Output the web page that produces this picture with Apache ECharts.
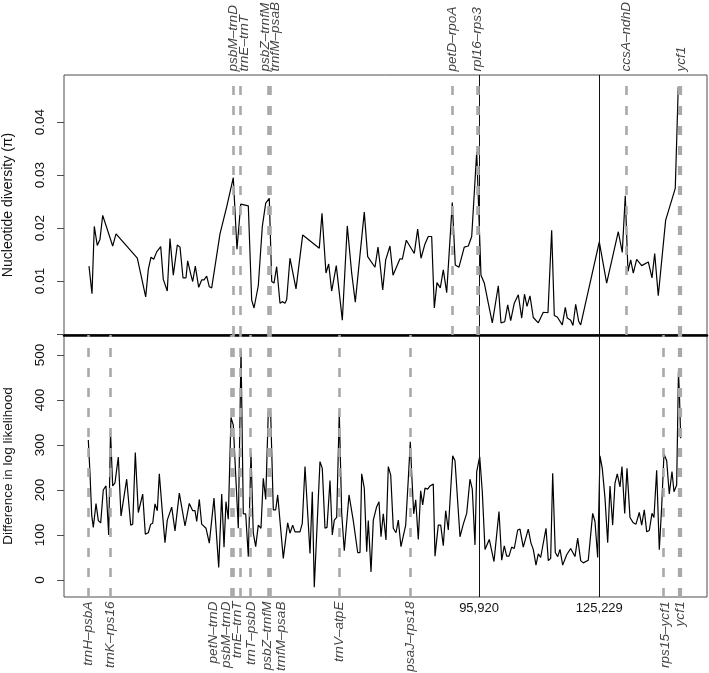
<!DOCTYPE html>
<html><head><meta charset="utf-8">
<script src="https://cdn.jsdelivr.net/npm/echarts@6/dist/echarts.min.js"></script>
<style>html,body{margin:0;padding:0;background:#fff}#c{width:709px;height:673px}</style>
</head><body><div id="c"></div>
<script>
// ---------- DATA (positions in kb) ----------
const piX = [0.91,1.64,2.20,2.93,3.59,4.25,6.68,7.49,12.68,14.72,15.36,16.01,16.67,17.40,18.38,19.01,19.98,20.64,21.45,22.42,23.08,23.81,24.54,24.95,25.69,26.17,26.81,27.63,28.36,28.93,29.58,30.22,30.80,32.82,34.45,36.06,36.96,37.87,39.72,40.54,41.11,42.15,43.13,43.96,44.83,45.42,45.98,46.63,47.44,48.00,48.66,49.07,49.87,51.34,52.97,57.01,57.67,58.64,59.30,60.03,61.15,62.62,63.83,64.90,65.78,67.97,68.80,70.58,71.31,71.80,72.46,73.19,74.23,74.97,76.67,77.23,78.21,80.15,80.98,81.79,82.76,83.56,84.39,85.03,85.68,86.49,87.22,88.05,89.41,90.14,91.04,92.33,93.31,94.14,95.36,96.40,97.21,98.18,99.16,100.62,101.27,102.18,102.91,103.64,104.51,105.49,106.32,107.00,107.61,108.34,109.14,110.36,111.58,112.72,113.62,114.26,114.99,116.21,116.94,117.42,118.25,118.81,119.47,120.20,120.69,125.22,127.02,129.85,130.82,131.55,132.21,132.87,133.50,134.33,135.55,137.16,138.06,138.72,139.59,141.39,143.73,144.46];
const piY = [0.0128,0.0076,0.0203,0.0167,0.0179,0.0224,0.0166,0.0189,0.0143,0.0070,0.0122,0.0145,0.0141,0.0155,0.0165,0.0103,0.0081,0.0180,0.0111,0.0168,0.0164,0.0106,0.0106,0.0138,0.0113,0.0099,0.0128,0.0088,0.0102,0.0102,0.0109,0.0089,0.0087,0.0189,0.0240,0.0295,0.0160,0.0245,0.0242,0.0064,0.0049,0.0091,0.0203,0.0247,0.0256,0.0099,0.0096,0.0127,0.0058,0.0061,0.0058,0.0065,0.0143,0.0085,0.0187,0.0162,0.0228,0.0115,0.0132,0.0081,0.0129,0.0026,0.0204,0.0115,0.0060,0.0230,0.0146,0.0126,0.0164,0.0133,0.0083,0.0140,0.0166,0.0111,0.0142,0.0141,0.0177,0.0152,0.0198,0.0143,0.0170,0.0184,0.0184,0.0049,0.0097,0.0087,0.0121,0.0078,0.0248,0.0130,0.0126,0.0164,0.0166,0.0184,0.0344,0.0111,0.0096,0.0058,0.0021,0.0091,0.0021,0.0023,0.0055,0.0025,0.0058,0.0074,0.0030,0.0075,0.0052,0.0072,0.0031,0.0021,0.0041,0.0040,0.0196,0.0035,0.0032,0.0017,0.0050,0.0030,0.0026,0.0016,0.0056,0.0024,0.0017,0.0174,0.0096,0.0193,0.0154,0.0261,0.0118,0.0140,0.0115,0.0141,0.0129,0.0136,0.0106,0.0152,0.0072,0.0215,0.0275,0.0467];

const llX = [0.74,1.15,1.57,1.96,2.62,3.18,3.76,4.39,5.05,5.71,6.15,6.68,7.24,8.05,8.71,10.09,10.48,11.07,11.56,12.19,12.92,13.99,14.63,15.36,15.94,16.43,16.99,17.55,18.04,18.77,19.42,19.98,21.06,21.86,22.91,24.30,25.34,26.17,26.73,27.15,27.78,28.36,29.41,30.22,31.36,32.51,33.24,33.80,34.28,34.84,35.50,36.06,37.28,37.94,38.50,39.08,39.72,40.37,40.93,41.52,42.15,42.81,43.37,43.96,44.59,45.17,45.81,46.39,46.88,48.24,49.31,49.87,50.53,51.09,52.31,52.87,53.53,54.75,55.31,55.79,57.18,57.74,58.40,58.89,59.62,60.18,60.67,61.25,61.88,62.47,63.10,64.25,65.29,66.37,66.93,67.34,67.97,68.56,68.95,69.61,70.17,70.99,71.56,72.04,72.60,73.26,73.82,74.41,75.04,75.70,76.26,76.91,78.06,78.69,79.18,79.52,80.01,80.50,81.13,81.71,82.20,82.76,83.42,83.98,84.78,85.20,86.00,86.59,87.22,87.80,88.44,88.85,89.51,90.07,91.29,92.09,92.92,93.72,94.28,94.94,95.36,96.09,96.72,97.38,98.42,99.57,100.79,101.45,102.08,102.66,103.22,103.88,104.51,105.34,105.90,106.70,107.92,108.58,109.14,109.80,110.36,110.94,112.24,112.80,113.38,113.87,114.50,115.09,115.65,116.30,117.28,118.25,119.30,119.96,120.69,121.32,122.54,123.61,124.17,124.83,125.39,125.95,126.61,127.27,127.83,128.48,129.04,129.60,130.26,130.75,131.41,131.97,132.70,133.50,134.16,134.96,135.55,136.18,136.77,137.40,138.06,138.54,139.20,139.84,140.42,140.98,141.64,142.27,142.93,143.42,144.07,144.51,144.76,145.05];
const llY = [311,237,144,117,170,132,127,200,209,100,330,209,216,273,142,224,226,122,124,283,150,191,102,105,124,126,169,154,236,152,83,133,162,109,193,120,170,154,154,130,179,124,115,82,182,28,191,73,174,135,361,344,115,511,147,147,52,282,104,74,122,115,226,179,374,370,156,156,189,48,127,104,122,107,107,126,252,59,196,-16,263,248,115,117,221,100,133,139,372,148,65,189,132,61,61,236,204,63,132,18,133,163,174,96,147,89,252,233,115,105,133,74,122,224,307,237,147,178,90,198,167,204,202,209,213,53,122,122,76,154,111,107,276,265,96,124,148,224,202,78,241,274,196,68,90,41,152,44,76,53,53,73,70,111,113,73,113,82,68,33,58,50,115,43,48,237,61,52,68,33,56,70,52,93,43,38,44,148,130,50,276,248,182,83,209,122,215,236,207,252,148,248,139,127,124,150,122,156,107,110,148,139,244,67,163,280,265,191,241,196,211,463,407,315];

// region boundaries (kb)
const boundaries = [95.920, 125.229];
// highlighted regions
const topNames = ['psbM–trnD','trnE–trnT','psbZ–trnfM','trnfM–psaB','petD–rpoA','rpl16–rps3','ccsA–ndhD','ycf1'];
const topPos   = [36.06, 37.87, 44.59, 45.00, 89.34, 95.50, 131.89, 144.88];
const botNames = ['trnH–psbA','trnK–rps16','petN–trnD','psbM–trnD','trnE–trnT','trnT–psbD','psbZ–trnfM','trnfM–psaB','trnV–atpE','psaJ–rps18','rps15–ycf1','ycf1'];
const botPos   = [0.74, 6.10, 35.67, 36.06, 37.87, 40.30, 44.59, 45.00, 61.88, 79.18, 140.81, 144.88];
// tick values
const piTicks = [0, 0.01, 0.02, 0.03, 0.04];
const piTickLabels = [0.01, 0.02, 0.03, 0.04];
const llTicks = [0, 100, 200, 300, 400, 500];

// ---------- STYLE / LAYOUT ----------
const X_MIN = -5.18, X_MAX = 151.46;
const PI_MIN = -0.0002, PI_MAX = 0.0489;
const LL_MIN = -37.8, LL_MAX = 544.4;
const topNudge = [0, 4, -3.5, 5, 0, 0, 0, 1];
const botNudge = [0, 0, -18.5, -7, -3, 1, -1, 11, 0, 0, 1.5, 0];
const topDashW = [2.6, 2.6, 2.6, 2.6, 2.6, 3.6, 2.6, 4.2];
const botDashW = [2.6, 2.6, 2.6, 2.6, 2.6, 2.6, 2.6, 2.6, 2.6, 2.6, 2.6, 4.2];
const FONT = '"Liberation Sans", Arial, Helvetica, sans-serif';
const TXT = '#111';
const AX = '#4d4d4d';
const dash = w => ({type:[9,11], width:w, color:'#a9a9a9'});
const solid = {type:'solid', width:1, color:'#111'};

const zip = (a,b) => a.slice(0, Math.min(a.length,b.length)).map((v,i)=>[v,b[i]]);
const markLines = (pos, widths) => ({
  silent:true, symbol:['none','none'], label:{show:false}, animation:false,
  data: boundaries.map(v=>({xAxis:v, lineStyle:solid})).concat(pos.map((v,i)=>({xAxis:v, lineStyle:dash(widths[i])})))
});

const chart = echarts.init(document.getElementById('c'));
chart.setOption({
  animation:false,
  backgroundColor:'#fff',
  grid:[
    {left:64, top:75, width:643, height:260, show:true, borderColor:AX, borderWidth:1, containLabel:false, outerBoundsMode:'none'},
    {left:64, top:335, width:643, height:262, show:true, borderColor:AX, borderWidth:1, containLabel:false, outerBoundsMode:'none'}
  ],
  xAxis:[
    {gridIndex:0, type:'value', min:X_MIN, max:X_MAX,
     axisLine:{show:true, onZero:false, lineStyle:{color:'#000', width:2.5}},
     axisTick:{show:false}, axisLabel:{show:false}, splitLine:{show:false}},
    {gridIndex:1, type:'value', min:X_MIN, max:X_MAX,
     axisLine:{show:false, onZero:false}, axisTick:{show:false}, splitLine:{show:false},
     axisLabel:{show:true, customValues:boundaries, margin:5, fontSize:13, color:TXT, fontFamily:FONT,
       formatter:v=>Math.round(v*1000).toLocaleString('en-US')}}
  ],
  yAxis:[
    {gridIndex:0, type:'value', min:PI_MIN, max:PI_MAX,
     axisLine:{show:false, onZero:false}, splitLine:{show:false},
     axisTick:{show:true, length:7, customValues:piTicks, lineStyle:{color:AX}},
     axisLabel:{show:true, customValues:piTickLabels, rotate:90, margin:17, fontSize:13.5, color:TXT, fontFamily:FONT,
       formatter:v=>v.toFixed(2)},
     name:'Nucleotide diversity (π)', nameLocation:'middle', nameGap:49, nameRotate:90,
     nameTextStyle:{fontSize:14, color:TXT, fontFamily:FONT}},
    {gridIndex:1, type:'value', min:LL_MIN, max:LL_MAX,
     axisLine:{show:false, onZero:false}, splitLine:{show:false},
     axisTick:{show:true, length:7, customValues:llTicks, lineStyle:{color:AX}},
     axisLabel:{show:true, customValues:llTicks, rotate:90, margin:17, fontSize:13.5, color:TXT, fontFamily:FONT},
     name:'Difference in log likelihood', nameLocation:'middle', nameGap:49, nameRotate:90,
     nameTextStyle:{fontSize:13.5, color:TXT, fontFamily:FONT}}
  ],
  series:[
    {type:'line', xAxisIndex:0, yAxisIndex:0, data:zip(piX,piY), symbol:'none',
     lineStyle:{color:'#000', width:1.2}, markLine:markLines(topPos, topDashW), z:2},
    {type:'line', xAxisIndex:1, yAxisIndex:1, data:zip(llX,llY), symbol:'none',
     lineStyle:{color:'#000', width:1.2}, markLine:markLines(botPos, botDashW), z:2},
    {type:'scatter', xAxisIndex:0, yAxisIndex:0, symbolSize:1, silent:true, clip:false,
     itemStyle:{color:'rgba(0,0,0,0)'},
     data: topNames.map((n,i)=>({name:n, value:[topPos[i], PI_MAX], label:{offset:[0, topNudge[i]]}})),
     label:{show:true, formatter:'{b}', position:'top', distance:3, rotate:90, align:'left', verticalAlign:'middle',
       fontStyle:'italic', fontSize:13.6, fontFamily:FONT, color:TXT}},
    {type:'scatter', xAxisIndex:1, yAxisIndex:1, symbolSize:1, silent:true, clip:false,
     itemStyle:{color:'rgba(0,0,0,0)'},
     data: botNames.map((n,i)=>({name:n, value:[botPos[i], LL_MIN], label:{offset:[0, botNudge[i]]}})),
     label:{show:true, formatter:'{b}', position:'bottom', distance:4, rotate:90, align:'right', verticalAlign:'middle',
       fontStyle:'italic', fontSize:13.6, fontFamily:FONT, color:TXT}}
  ]
});
</script>
</body></html>
